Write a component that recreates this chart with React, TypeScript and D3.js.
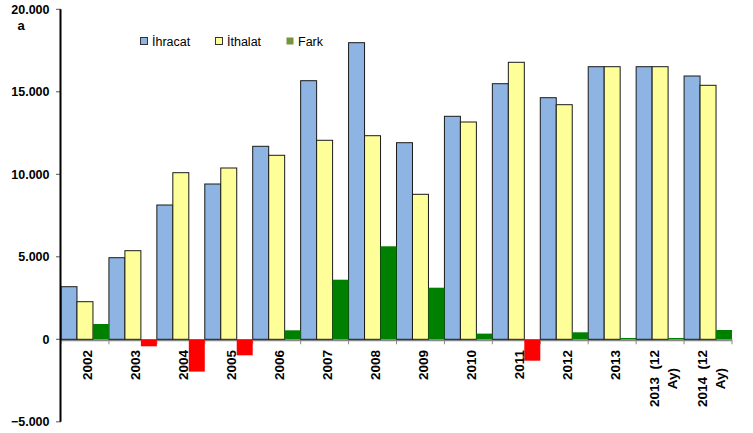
import React, { useRef, useEffect } from 'react';
import * as d3 from 'd3';

const categories = ["2002", "2003", "2004", "2005", "2006", "2007", "2008", "2009", "2010", "2011", "2012", "2013", "2013  (12 Ay)", "2014  (12 Ay)"];
const ihracat = [3188, 4945, 8139, 9412, 11697, 15673, 17976, 11915, 13515, 15491, 14642, 16521, 16521, 15958];
const ithalat = [2279, 5370, 10097, 10382, 11152, 12061, 12339, 8788, 13170, 16788, 14218, 16521, 16521, 15394];
const fark = [927, -425, -1958, -970, 545, 3612, 5637, 3127, 345, -1297, 424, 80, 80, 564];
const yTicks = [-5000, 0, 5000, 10000, 15000, 20000];
const seriesNames = ["İhracat", "İthalat", "Fark"];

const width = 753;
const height = 433;

export default function App() {
    const svgRef = useRef<SVGSVGElement>(null);

    useEffect(() => {
        const svg = d3.select(svgRef.current);
        svg.selectAll("*").remove();

        const x = d3.scaleBand<string>()
            .domain(categories)
            .range([61, 732])
            .padding(0);

        const sub = d3.scaleBand<string>()
            .domain(seriesNames)
            .range([0, x.bandwidth()])
            .padding(0);

        const y = d3.scaleLinear()
            .domain([-5000, 20000])
            .range([421.8, 9.3]);

        const fmt = (v: number) => v === 0 ? "0" : d3.format(",")(v).replace(/,/g, ".");

        // y axis ticks + labels
        const yg = svg.append("g");
        yg.selectAll("line.tick")
            .data(yTicks)
            .enter()
            .append("line")
            .attr("x1", 56)
            .attr("x2", 61)
            .attr("y1", d => y(d))
            .attr("y2", d => y(d))
            .attr("stroke", "#555")
            .attr("stroke-width", 1);
        yg.selectAll("text")
            .data(yTicks)
            .enter()
            .append("text")
            .attr("x", 49.5)
            .attr("y", d => y(d))
            .attr("dy", "0.36em")
            .attr("text-anchor", "end")
            .style("font-family", "'Liberation Sans', Arial, sans-serif")
            .style("font-weight", "bold")
            .style("font-size", "12.5px")
            .text(d => fmt(d));

        svg.append("text")
            .attr("x", 21)
            .attr("y", 30)
            .attr("text-anchor", "middle")
            .style("font-family", "'Liberation Sans', Arial, sans-serif")
            .style("font-weight", "bold")
            .style("font-size", "13px")
            .text("a");

        // x axis (drawn under the bars)
        svg.append("line")
            .attr("x1", 61)
            .attr("x2", 732)
            .attr("y1", y(0) + 1)
            .attr("y2", y(0) + 1)
            .attr("stroke", "#888")
            .attr("stroke-width", 2);
        const edges = categories.map(c => x(c) as number).concat([x.range()[1]]);
        svg.selectAll("line.xt")
            .data(edges)
            .enter()
            .append("line")
            .attr("x1", d => d)
            .attr("x2", d => d)
            .attr("y1", y(0))
            .attr("y2", y(0) + 5)
            .attr("stroke", "#888")
            .attr("stroke-width", 1);

        // bars
        const bars = svg.append("g");
        const drawSeries = (vals: number[], name: string, fill: (v: number) => string, stroke: string | null) => {
            bars.selectAll("rect." + name.replace(/\W/g, "s"))
                .data(vals)
                .enter()
                .append("rect")
                .attr("x", (d, i) => (x(categories[i]) as number) + (sub(name) as number))
                .attr("y", d => y(Math.max(0, d)))
                .attr("width", sub.bandwidth())
                .attr("height", d => Math.abs(y(d) - y(0)))
                .attr("fill", d => fill(d))
                .attr("stroke", stroke ?? "none")
                .attr("stroke-width", stroke ? 1 : 0);
        };
        drawSeries(ihracat, "İhracat", () => "#8EB4E3", "#1a1a1a");
        drawSeries(ithalat, "İthalat", () => "#FFFF99", "#1a1a1a");
        drawSeries(fark, "Fark", d => d < 0 ? "#FF0000" : "#008000", null);

        // y axis line
        svg.append("line")
            .attr("x1", 60.5)
            .attr("x2", 60.5)
            .attr("y1", y(20000))
            .attr("y2", y(-5000))
            .attr("stroke", "#000")
            .attr("stroke-width", 2);

        // rotated x labels
        categories.forEach(c => {
            const lines = c.length > 6 ? [c.slice(0, c.lastIndexOf(" ")), c.slice(c.lastIndexOf(" ") + 1)] : [c];
            const cx = (x(c) as number) + x.bandwidth() / 2;
            const g = svg.append("g")
                .attr("transform", `translate(${cx}, 350) rotate(-90)`);
            let firstLen = 0;
            lines.forEach((ln, i) => {
                const t = g.append("text")
                    .attr("y", 7.5 + (i - (lines.length - 1) / 2) * 18)
                    .attr("xml:space", "preserve")
                    .style("white-space", "pre")
                    .style("font-family", "'Liberation Sans', Arial, sans-serif")
                    .style("font-weight", "bold")
                    .style("font-size", "13.5px")
                    .text(ln);
                if (i === 0) {
                    t.attr("x", 0).attr("text-anchor", "end");
                    firstLen = (t.node() as SVGTextElement).getComputedTextLength();
                } else {
                    t.attr("x", -firstLen / 2).attr("text-anchor", "middle");
                }
            });
        });

        // legend
        const legendX = [140, 215, 286];
        const legendFill = ["#8EB4E3", "#FFFF99", "#77933C"];
        const lg = svg.append("g");
        seriesNames.forEach((n, i) => {
            lg.append("rect")
                .attr("x", legendX[i] + 0.5)
                .attr("y", 37.5)
                .attr("width", 7)
                .attr("height", 7)
                .attr("fill", legendFill[i])
                .attr("stroke", i < 2 ? "#333" : "none")
                .attr("stroke-width", 1);
            lg.append("text")
                .attr("x", legendX[i] + 12)
                .attr("y", 41)
                .attr("dy", "0.36em")
                .style("font-family", "'Liberation Sans', Arial, sans-serif")
                .style("font-size", "12.5px")
                .text(n);
        });
    }, []);

    return (
        <svg ref={svgRef} width={width} height={height}
            style={{ position: "absolute", left: 0, top: 0, background: "#fff" }} />
    );
}
